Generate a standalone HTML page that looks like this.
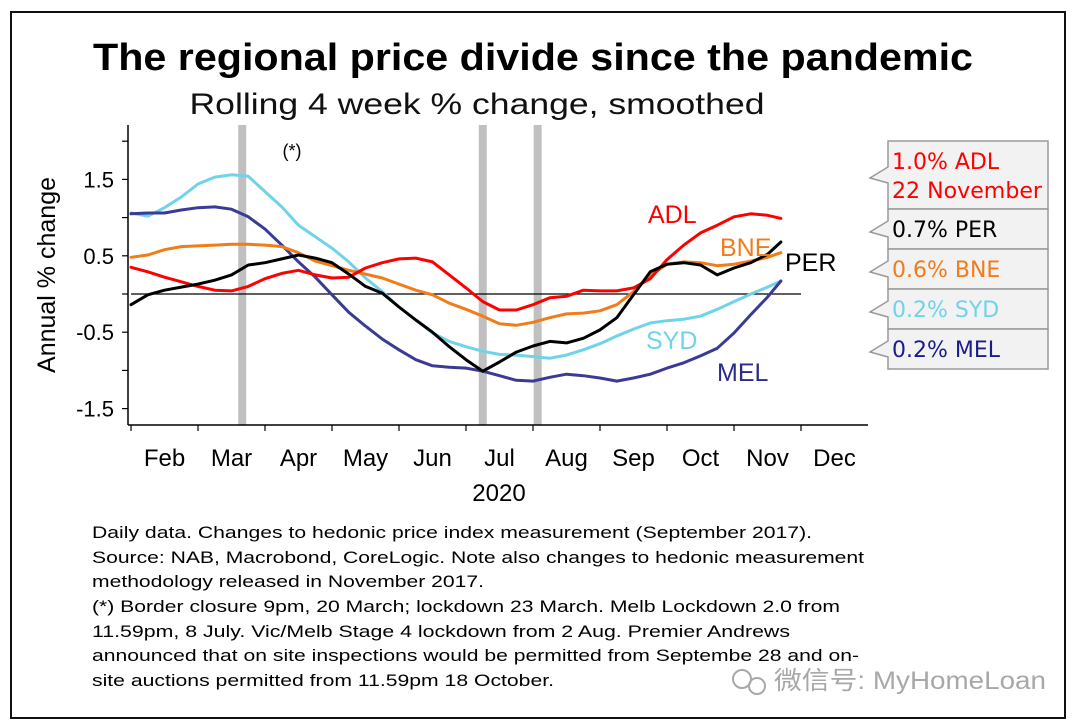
<!DOCTYPE html>
<html><head><meta charset="utf-8"><style>
html,body{margin:0;padding:0;background:#fff;}
svg{display:block;font-family:"Liberation Sans",Arial,sans-serif;}
</style></head><body>
<svg id="chart" width="1080" height="728" viewBox="0 0 1080 728" xmlns="http://www.w3.org/2000/svg">
<rect x="11" y="12" width="1054" height="706" fill="#fff" stroke="#111" stroke-width="2"/>
<text x="533" y="70" text-anchor="middle" font-size="38" font-weight="bold" textLength="880" lengthAdjust="spacingAndGlyphs">The regional price divide since the pandemic</text>
<text x="477" y="114" text-anchor="middle" font-size="30" textLength="575" lengthAdjust="spacingAndGlyphs" fill="#111">Rolling 4 week % change, smoothed</text>
<g id="plot"></g>
<text transform="translate(55,275) rotate(-90)" text-anchor="middle" font-size="25">Annual % change</text>
<text x="499" y="501" text-anchor="middle" font-size="24">2020</text>
<text x="292" y="157" text-anchor="middle" font-size="18">(*)</text>
<text x="648" y="223" font-size="25" fill="#ff0000">ADL</text>
<text x="720" y="256" font-size="25" fill="#f07c1a">BNE</text>
<text x="785" y="271" font-size="25" fill="#000">PER</text>
<text x="646" y="349" font-size="25" fill="#6fd3ea">SYD</text>
<text x="717" y="381" font-size="25" fill="#2b2b8a">MEL</text>
<g id="legend"></g>
<g font-size="17" fill="#000">
<text x="92" y="538" textLength="720" lengthAdjust="spacingAndGlyphs">Daily data. Changes to hedonic price index measurement (September 2017).</text>
<text x="92" y="563" textLength="772" lengthAdjust="spacingAndGlyphs">Source: NAB, Macrobond, CoreLogic. Note also changes to hedonic measurement</text>
<text x="92" y="587" textLength="392" lengthAdjust="spacingAndGlyphs">methodology released in November 2017.</text>
<text x="92" y="612" textLength="748" lengthAdjust="spacingAndGlyphs">(*) Border closure 9pm, 20 March; lockdown 23 March. Melb Lockdown 2.0 from</text>
<text x="92" y="637" textLength="698" lengthAdjust="spacingAndGlyphs">11.59pm, 8 July. Vic/Melb Stage 4 lockdown from 2 Aug. Premier Andrews</text>
<text x="92" y="661" textLength="767" lengthAdjust="spacingAndGlyphs">announced that on site inspections would be permitted from Septembe 28 and on-</text>
<text x="92" y="686" textLength="462" lengthAdjust="spacingAndGlyphs">site auctions permitted from 11.59pm 18 October.</text>
</g>
<g fill="#a8a8a8">
<circle cx="742" cy="679" r="9" fill="none" stroke="#a8a8a8" stroke-width="2"/>
<circle cx="757" cy="686" r="8" fill="none" stroke="#a8a8a8" stroke-width="2"/>
<text x="774" y="689" font-size="25" textLength="272" lengthAdjust="spacingAndGlyphs" font-family="'Liberation Sans','Noto Sans CJK SC',sans-serif">微信号: MyHomeLoan</text>
</g>
</svg>
<script>
const months = [0,0.25,0.5,0.75,1,1.25,1.5,1.75,2,2.25,2.5,2.75,3,3.25,3.5,3.75,4,4.25,4.5,4.75,5,5.25,5.5,5.75,6,6.25,6.5,6.75,7,7.25,7.5,7.75,8,8.25,8.5,8.75,9,9.25,9.5,9.7];
const adl = [0.35,0.29,0.22,0.16,0.1,0.05,0.04,0.1,0.2,0.27,0.31,0.25,0.21,0.22,0.34,0.41,0.46,0.47,0.42,0.25,0.08,-0.1,-0.21,-0.21,-0.14,-0.05,-0.03,0.05,0.04,0.04,0.08,0.2,0.45,0.64,0.8,0.9,1.01,1.05,1.03,0.99];
const bne = [0.48,0.51,0.58,0.62,0.63,0.64,0.65,0.65,0.64,0.62,0.54,0.43,0.37,0.31,0.26,0.21,0.13,0.05,-0.01,-0.12,-0.2,-0.29,-0.39,-0.41,-0.37,-0.31,-0.26,-0.25,-0.22,-0.14,0.03,0.24,0.39,0.42,0.41,0.37,0.39,0.43,0.48,0.54];
const syd = [1.06,1.02,1.13,1.27,1.44,1.53,1.56,1.54,1.34,1.14,0.9,0.75,0.6,0.42,0.21,0.03,-0.17,-0.34,-0.51,-0.62,-0.69,-0.75,-0.79,-0.8,-0.82,-0.84,-0.8,-0.73,-0.65,-0.55,-0.46,-0.38,-0.35,-0.33,-0.29,-0.2,-0.1,0,0.09,0.17];
const mel = [1.05,1.06,1.06,1.1,1.13,1.14,1.11,1.01,0.85,0.64,0.42,0.22,-0.01,-0.24,-0.42,-0.59,-0.73,-0.86,-0.94,-0.96,-0.97,-1.01,-1.07,-1.13,-1.14,-1.09,-1.05,-1.07,-1.1,-1.14,-1.1,-1.05,-0.97,-0.9,-0.81,-0.71,-0.51,-0.27,-0.04,0.17];
const per = [-0.14,-0.01,0.05,0.09,0.13,0.18,0.25,0.38,0.41,0.46,0.51,0.47,0.41,0.26,0.1,0.01,-0.17,-0.34,-0.5,-0.69,-0.86,-1.01,-0.89,-0.76,-0.68,-0.62,-0.64,-0.58,-0.47,-0.31,-0.01,0.29,0.39,0.41,0.38,0.25,0.34,0.41,0.52,0.68];
const monthLabels = ["Feb","Mar","Apr","May","Jun","Jul","Aug","Sep","Oct","Nov","Dec"];
const yTicks = [2.0,1.5,1.0,0.5,0,-0.5,-1.0,-1.5,-2.0];
const yTickLabels = ["1.5","0.5","-0.5","-1.5"];
const eventMonths = [1.66,5.25,6.07];
const legendItems = [["1.0% ADL","22 November"],["0.7% PER"],["0.6% BNE"],["0.2% SYD"],["0.2% MEL"]];
const legendColors = ["#ff0000","#000000","#f07c1a","#6fd3ea","#1c1c8a"];

const NS="http://www.w3.org/2000/svg";
const X0=131, PXM=67, Y0=294, PXV=76.4, YB=425;
const xs = m => X0 + m*PXM;
const ys = v => Y0 - v*PXV;
function mk(tag, attrs, parent){const e=document.createElementNS(NS,tag);for(const k in attrs)e.setAttribute(k,attrs[k]);parent.appendChild(e);return e;}
const plot=document.getElementById('plot');

eventMonths.forEach(m=>{
  const r=mk('rect',{x:xs(m)-4,y:125,width:8,height:YB-125,fill:'#c0c0c0'},plot);
  
  
});
const ax=mk('line',{x1:X0-3,y1:125,x2:X0-3,y2:YB,stroke:'#000','stroke-width':1.5},plot);


const bx=mk('line',{x1:X0-3,y1:YB,x2:xs(11),y2:YB,stroke:'#000','stroke-width':1.5},plot);


yTicks.forEach(v=>{
  if(ys(v)<125||ys(v)>YB)return;
  const t=mk('line',{x1:X0-9,y1:ys(v),x2:X0-3,y2:ys(v),stroke:'#000','stroke-width':1.2},plot);
  
  
});
yTickLabels.forEach(s=>{
  const t=mk('text',{x:114,y:ys(parseFloat(s))+8,'text-anchor':'end','font-size':22},plot);
  t.textContent=s;
  
  
});
for(let i=0;i<=10;i++){
  const t=mk('line',{x1:xs(i),y1:YB,x2:xs(i),y2:YB+6,stroke:'#000','stroke-width':1.2},plot);
  
  
}
monthLabels.forEach((s,i)=>{
  const t=mk('text',{x:xs(i+0.5),y:466,'text-anchor':'middle','font-size':24},plot);
  t.textContent=s;
  
  
});
const zl=mk('line',{x1:X0,y1:ys(0),x2:xs(10),y2:ys(0),stroke:'#000','stroke-width':1.3},plot);



function drawSeries(vals,color,name){
  const d=vals.map((v,i)=>(i?'L':'M')+xs(months[i]).toFixed(1)+','+ys(v).toFixed(1)).join(' ');
  const p=mk('path',{d:d,fill:'none',stroke:color,'stroke-width':3,'stroke-linejoin':'round','stroke-linecap':'round'},plot);
  
  
}
drawSeries(syd,'#6fd3ea','line-syd');
drawSeries(mel,'#3b3b96','line-mel');
drawSeries(bne,'#f07c1a','line-bne');
drawSeries(adl,'#ff0000','line-adl');
drawSeries(per,'#000000','line-per');

const lg=document.getElementById('legend');
let ly=141;
legendItems.forEach((lines,i)=>{
  const h=lines.length>1?68:40;
  const mid=ly+h/2;
  const d=`M888,${ly} H1048 V${ly+h} H888 V${mid+8} L870,${mid+3} L888,${mid-8} Z`;
  const b=mk('path',{d:d,fill:'#f2f2f2',stroke:'#9a9a9a','stroke-width':1.5},lg);
  
  
  lines.forEach((s,j)=>{
    const t=mk('text',{x:892,y:ly+28+j*29,'font-size':22,fill:legendColors[i],'font-family':'"DejaVu Sans","Liberation Sans",sans-serif'},lg);
    if(s==='22 November'){t.setAttribute('textLength',150);t.setAttribute('lengthAdjust','spacingAndGlyphs');}
    t.textContent=s;
    
    
  });
  ly+=h;
});
</script>
</body></html>
